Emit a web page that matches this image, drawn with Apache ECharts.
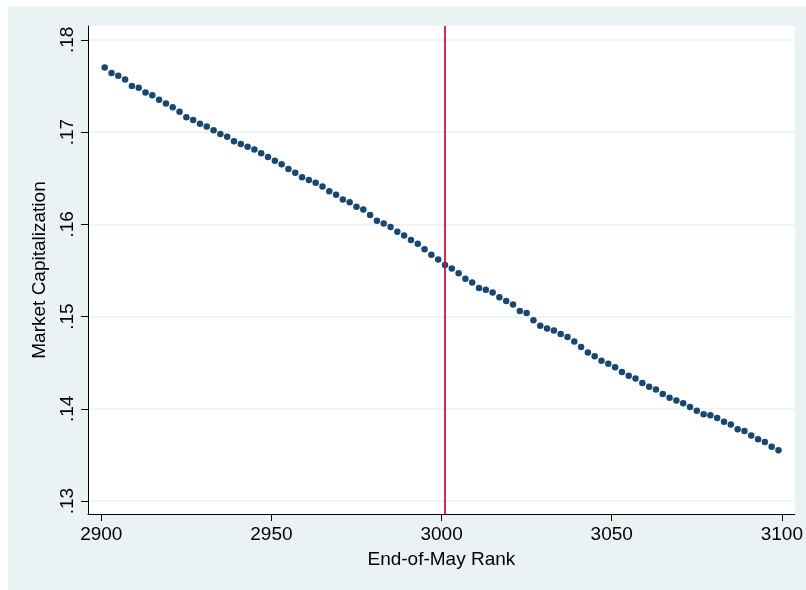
<!DOCTYPE html>
<html>
<head>
<meta charset="utf-8">
<script src="https://cdn.jsdelivr.net/npm/echarts@6/dist/echarts.min.js"></script>
<style>
  html, body { margin: 0; padding: 0; background: #ffffff; }
  #wrap { position: relative; width: 806px; height: 590px; }
  #bg { position: absolute; left: 8px; top: 6px; width: 798px; height: 584px; background: #EAF2F3; }
  #chart { position: absolute; left: 0; top: 0; width: 806px; height: 590px; }
</style>
</head>
<body>
<div id="wrap"><div id="bg"></div><div id="chart"></div></div>
<script>
// End-of-May rank (odd ranks 2901..3099)
const ranks = [
  2901,2903,2905,2907,2909,2911,2913,2915,2917,2919,
  2921,2923,2925,2927,2929,2931,2933,2935,2937,2939,
  2941,2943,2945,2947,2949,2951,2953,2955,2957,2959,
  2961,2963,2965,2967,2969,2971,2973,2975,2977,2979,
  2981,2983,2985,2987,2989,2991,2993,2995,2997,2999,
  3001,3003,3005,3007,3009,3011,3013,3015,3017,3019,
  3021,3023,3025,3027,3029,3031,3033,3035,3037,3039,
  3041,3043,3045,3047,3049,3051,3053,3055,3057,3059,
  3061,3063,3065,3067,3069,3071,3073,3075,3077,3079,
  3081,3083,3085,3087,3089,3091,3093,3095,3097,3099
];
// Market capitalization
const marketCap = [
  0.1770,0.1764,0.1761,0.1757,0.1750,0.1748,0.1743,0.1740,0.1735,0.1731,
  0.1727,0.1722,0.1716,0.1713,0.1709,0.1706,0.1702,0.1698,0.1695,0.1690,
  0.1687,0.1684,0.1681,0.1677,0.1673,0.1669,0.1665,0.1660,0.1656,0.1651,
  0.1648,0.1645,0.1641,0.1636,0.1632,0.1627,0.1624,0.1619,0.1616,0.1610,
  0.1604,0.1601,0.1597,0.1592,0.1588,0.1583,0.1579,0.1573,0.1567,0.1562,
  0.1556,0.1552,0.1547,0.1541,0.1537,0.1531,0.1529,0.1526,0.1521,0.1517,
  0.1513,0.1506,0.1504,0.1496,0.1490,0.1487,0.1485,0.1481,0.1478,0.1473,
  0.1467,0.1461,0.1457,0.1452,0.1449,0.1445,0.1440,0.1436,0.1433,0.1428,
  0.1424,0.1421,0.1416,0.1412,0.1409,0.1406,0.1402,0.1398,0.1394,0.1393,
  0.1390,0.1386,0.1383,0.1378,0.1376,0.1371,0.1367,0.1364,0.1359,0.1355
];
const xTicks = [2900, 2950, 3000, 3050, 3100];
const yTicks = [0.13, 0.14, 0.15, 0.16, 0.17, 0.18];
const cutoff = [3001];

const FONT = 'Liberation Sans, Helvetica, Arial, sans-serif';
const chart = echarts.init(document.getElementById('chart'), null, { renderer: 'canvas' });

const points = ranks.map((r, i) => [r, marketCap[i]]);

chart.setOption({
  backgroundColor: 'transparent',
  animation: false,
  textStyle: { fontFamily: FONT, color: '#000' },
  grid: {
    left: 88, top: 26, right: 10, bottom: 76,
    show: true, backgroundColor: '#ffffff', borderWidth: 0
  },
  xAxis: {
    type: 'value',
    min: 2896.1, max: 3103.8,
    name: 'End-of-May Rank',
    nameLocation: 'middle',
    nameGap: 36,
    nameTextStyle: { fontSize: 19, color: '#000', fontFamily: FONT },
    axisLine: { show: true, onZero: false, lineStyle: { color: '#000', width: 1 } },
    axisTick: { show: true, length: 7, customValues: xTicks, lineStyle: { color: '#000', width: 1 } },
    axisLabel: { show: true, customValues: xTicks, margin: 11, fontSize: 19, color: '#000', fontFamily: FONT,
                 formatter: v => String(v) },
    splitLine: { show: false }
  },
  yAxis: {
    type: 'value',
    min: 0.1286, max: 0.1815,
    name: 'Market Capitalization',
    nameLocation: 'middle',
    nameRotate: 90,
    nameGap: 39,
    nameTextStyle: { fontSize: 19, color: '#000', fontFamily: FONT },
    axisLine: { show: true, onZero: false, lineStyle: { color: '#000', width: 1 } },
    axisTick: { show: true, length: 7, customValues: yTicks, lineStyle: { color: '#000', width: 1 } },
    axisLabel: { show: true, customValues: yTicks, rotate: 90, margin: 11, fontSize: 19, color: '#000', fontFamily: FONT,
                 formatter: v => v.toFixed(2).replace(/^0/, '') },
    splitLine: { show: true, lineStyle: { color: '#EAF2F3', width: 1.5 } }
  },
  series: [{
    type: 'scatter',
    data: points,
    symbol: 'circle',
    symbolSize: 6.5,
    itemStyle: { color: '#1A476F', opacity: 1 },
    markLine: {
      silent: true,
      symbol: 'none',
      label: { show: false },
      lineStyle: { color: '#C8173C', width: 1.8, type: 'solid', opacity: 1 },
      data: cutoff.map(c => ({ xAxis: c }))
    }
  }]
});
</script>
</body>
</html>
